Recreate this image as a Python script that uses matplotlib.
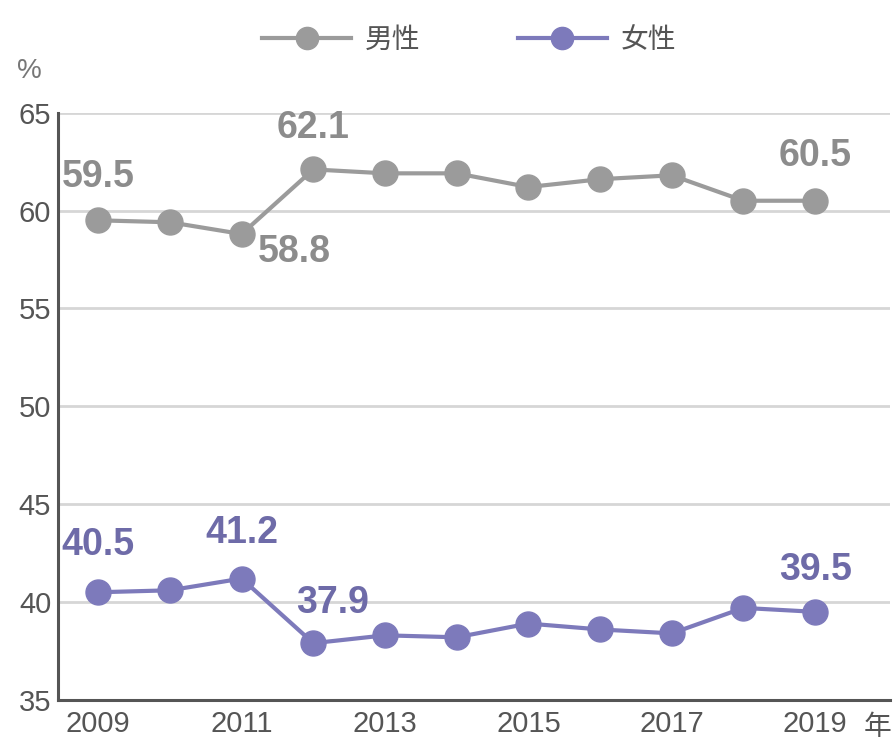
import matplotlib
matplotlib.use("Agg")
import matplotlib.pyplot as plt

plt.rcParams['font.family'] = ['Liberation Sans', 'Noto Sans CJK SC', 'DejaVu Sans']

# data
years = [2009, 2010, 2011, 2012, 2013, 2014, 2015, 2016, 2017, 2018, 2019]
male = [59.5, 59.4, 58.8, 62.1, 61.9, 61.9, 61.2, 61.6, 61.8, 60.5, 60.5]
female = [40.5, 40.6, 41.2, 37.9, 38.3, 38.2, 38.9, 38.6, 38.4, 39.7, 39.5]
series_names = ['男性', '女性']
yticks = [35, 40, 45, 50, 55, 60, 65]
xticks = [2009, 2011, 2013, 2015, 2017, 2019]

male_color = '#9b9b9b'
female_color = '#7d7abb'
male_text = '#8c8c8c'
female_text = '#6e6ba8'

fig = plt.figure(figsize=(8.94, 7.51), dpi=100)
ax = fig.add_axes([0.065, 0.068, 0.931, 0.782])

ax.plot(years, male, color=male_color, lw=3, marker='o', ms=18, label=series_names[0], zorder=3)
ax.plot(years, female, color=female_color, lw=3, marker='o', ms=18, label=series_names[1], zorder=3)

ax.set_ylim(35, 65)
ax.set_xlim(2008.44, 2020.05)
ax.set_yticks(yticks)
ax.set_xticks(xticks)
ax.grid(axis='y', color='#d6d6d6', lw=2)
ax.set_axisbelow(True)
for s in ['top', 'right']:
    ax.spines[s].set_visible(False)
for s in ['left', 'bottom']:
    ax.spines[s].set_color('#555555')
    ax.spines[s].set_linewidth(2.2)
ax.tick_params(length=0, labelsize=21, colors='#555555', pad=7)
ax.tick_params(axis='y', pad=5)

# unit labels
ax.annotate('%', xy=(0, 1), xycoords='axes fraction', xytext=(-21, 30),
            textcoords='offset points', fontsize=20, color='#777777', ha='center', va='center')
ax.annotate('年', xy=(2019, 0), xycoords=('data', 'axes fraction'), xytext=(45, -20),
            textcoords='offset points', fontsize=20, color='#555555', ha='center', va='center')

# value labels (index, dx pt, dy pt)
male_labels = [(0, 0, 31), (2, 38, -13), (3, 0, 30), (10, 0, 32)]
female_labels = [(0, 0, 34), (2, 0, 33), (3, 14, 29), (10, 0, 30)]
for i, dx, dy in male_labels:
    ax.annotate(f'{male[i]:.1f}', xy=(years[i], male[i]), xytext=(dx, dy),
                textcoords='offset points', ha='center', va='center',
                fontsize=27, fontweight='bold', color=male_text)
for i, dx, dy in female_labels:
    ax.annotate(f'{female[i]:.1f}', xy=(years[i], female[i]), xytext=(dx, dy),
                textcoords='offset points', ha='center', va='center',
                fontsize=27, fontweight='bold', color=female_text)

leg = fig.legend(loc='upper center', bbox_to_anchor=(0.525, 1.0), ncol=2, frameon=False,
                 handlelength=3.2, columnspacing=3.5, handletextpad=0.5,
                 prop={'family': ['Noto Sans CJK SC'], 'size': 20})
for t in leg.get_texts():
    t.set_color('#555555')
for h in leg.legend_handles:
    h.set_markersize(16)

fig.savefig('out.png', dpi=100, facecolor='white')
